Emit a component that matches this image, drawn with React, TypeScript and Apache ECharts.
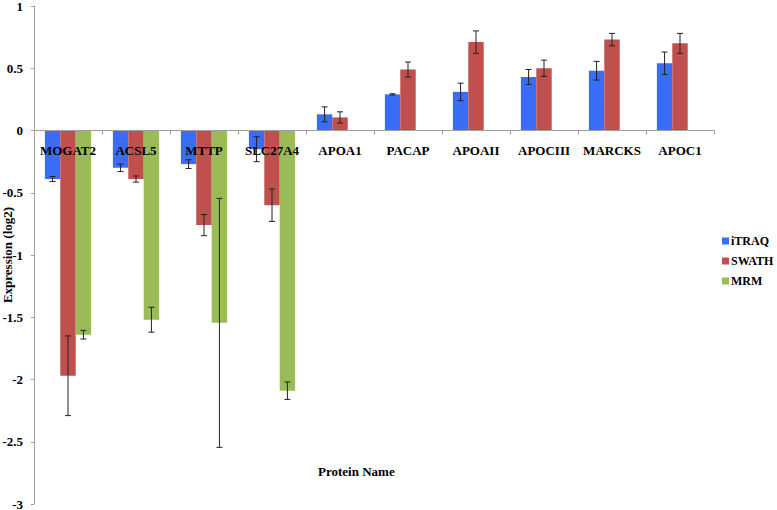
import React, { useEffect, useRef } from "react";
import * as echarts from "echarts";

const categories = ["MOGAT2", "ACSL5", "MTTP", "SLC27A4", "APOA1", "PACAP", "APOAII", "APOCIII", "MARCKS", "APOC1"];
const seriesNames = ["iTRAQ", "SWATH", "MRM"];
const itraq = [-0.39, -0.30, -0.27, -0.15, 0.13, 0.29, 0.31, 0.43, 0.48, 0.54];
const itraqErr = [0.02, 0.03, 0.035, 0.1, 0.06, 0.005, 0.07, 0.06, 0.075, 0.09];
const swath = [-1.97, -0.39, -0.76, -0.60, 0.105, 0.49, 0.71, 0.50, 0.73, 0.70];
const swathErr = [0.32, 0.025, 0.085, 0.13, 0.045, 0.06, 0.09, 0.065, 0.05, 0.08];
const mrm = [-1.64, -1.52, -1.545, -2.09, null, null, null, null, null, null];
const mrmErr = [0.035, 0.1, 1.0, 0.07, null, null, null, null, null, null];
const colors = ["#3A6DF5", "#C0504D", "#9BBB59"];

const FONT = "Liberation Serif";
const CAT_GAP = 0.32;
const Y_MIN = -3;
const Y_MAX = 1;
const GRID_TOP = 6;
const GRID_BOTTOM = 6;
const CHART_H = 510;

export default function App() {
  const ref = useRef<HTMLDivElement>(null);
  useEffect(() => {
    document.body.style.margin = "0";
    const chart = echarts.init(ref.current!, null, { renderer: "svg" });
    const values = [itraq, swath, mrm];
    const errs = [itraqErr, swathErr, mrmErr];
    const errData: any[] = [];
    values.forEach((arr, s) => {
      arr.forEach((v, i) => {
        const e = errs[s][i];
        if (v !== null && e !== null) errData.push([i, v, e, s]);
      });
    });
    const plotH = CHART_H - GRID_TOP - GRID_BOTTOM;
    const zeroFromBottom = (plotH * (0 - Y_MIN)) / (Y_MAX - Y_MIN);
    const option: any = {
      animation: false,
      backgroundColor: "#ffffff",
      grid: { left: 34, right: 63, top: GRID_TOP, bottom: GRID_BOTTOM, containLabel: false, outerBoundsMode: "none" },
      legend: {
        orient: "vertical",
        left: 717,
        top: 230,
        itemWidth: 7,
        itemHeight: 7,
        itemGap: 8,
        icon: "rect",
        data: seriesNames,
        textStyle: { fontFamily: FONT, fontWeight: "bold", fontSize: 12, color: "#000", padding: [0, 0, 0, -3] },
      },
      xAxis: {
        type: "category",
        data: categories,
        z: 10,
        offset: -zeroFromBottom,
        axisLine: { onZero: false, lineStyle: { color: "#a0a0a0", width: 1 } },
        axisTick: { show: true, length: 4, lineStyle: { color: "#a0a0a0" } },
        axisLabel: { interval: 0, margin: 13, fontFamily: FONT, fontWeight: "bold", fontSize: 13, color: "#000" },
        splitLine: { show: false },
      },
      yAxis: {
        type: "value",
        min: Y_MIN,
        max: Y_MAX,
        interval: 0.5,
        name: "Expression (log2)",
        nameLocation: "middle",
        nameGap: 20,
        nameMoveOverlap: false,
        nameTextStyle: { fontFamily: FONT, fontWeight: "bold", fontSize: 13, color: "#000" },
        axisLine: { show: true, lineStyle: { color: "#a0a0a0", width: 1 } },
        axisTick: { show: true, length: 3, lineStyle: { color: "#a0a0a0" } },
        axisLabel: { margin: 11, fontFamily: FONT, fontWeight: "bold", fontSize: 13, color: "#000" },
        splitLine: { show: false },
      },
      graphic: [
        {
          type: "text",
          left: 318,
          top: 465,
          style: { text: "Protein Name", font: `bold 13px "${FONT}"`, fill: "#000" },
        },
      ],
      series: [
        ...seriesNames.map((n, s) => ({
          name: n,
          type: "bar",
          data: values[s],
          barGap: "0%",
          barCategoryGap: `${CAT_GAP * 100}%`,
          itemStyle: { color: colors[s] },
          z: 2,
        })),
        {
          name: "err",
          type: "custom",
          z: 5,
          data: errData,
          encode: { x: 0, y: 1 },
          renderItem: (params: any, api: any) => {
            const x = api.value(0);
            const v = api.value(1);
            const e = api.value(2);
            const s = api.value(3);
            const top = api.coord([x, v + e]);
            const bot = api.coord([x, v - e]);
            const bandW = api.size([1, 0])[0];
            const barW = (bandW * (1 - CAT_GAP)) / 3;
            const cx = top[0] + (s - 1) * barW;
            const cap = 3;
            const st = { stroke: "#222", lineWidth: 1 };
            return {
              type: "group",
              children: [
                { type: "line", shape: { x1: cx, y1: top[1], x2: cx, y2: bot[1] }, style: st },
                { type: "line", shape: { x1: cx - cap, y1: top[1], x2: cx + cap, y2: top[1] }, style: st },
                { type: "line", shape: { x1: cx - cap, y1: bot[1], x2: cx + cap, y2: bot[1] }, style: st },
              ],
            };
          },
        },
      ],
    };
    chart.setOption(option);
    return () => chart.dispose();
  }, []);
  return <div ref={ref} style={{ width: 777, height: 510 }} />;
}
